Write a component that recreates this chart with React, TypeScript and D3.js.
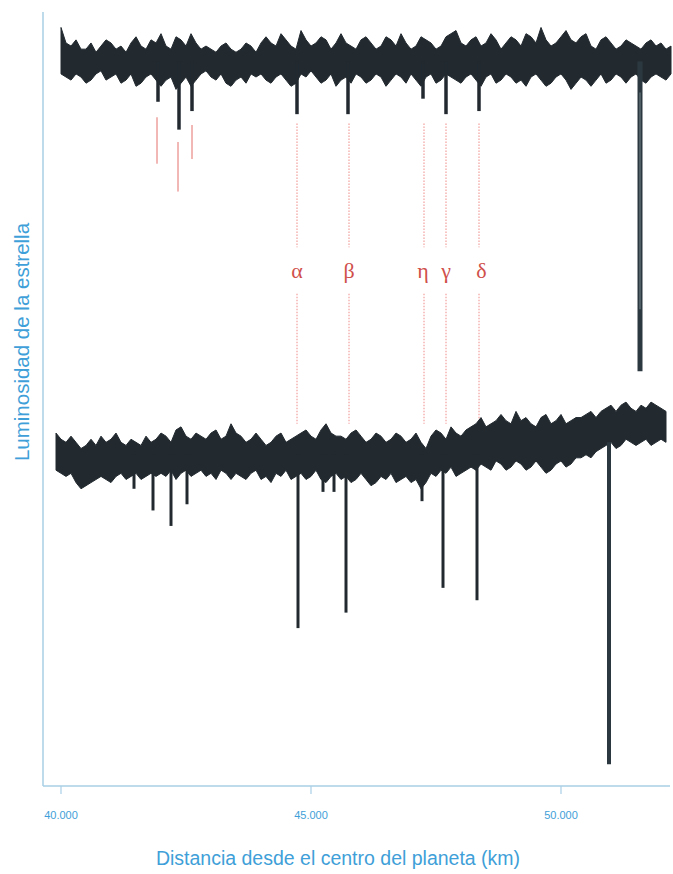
import React from 'react';
import * as d3 from 'd3';

// Light curves of a stellar occultation: upper/lower edge of the noisy band (flux %, 100 = unocculted)
const KM_STEP = 100;
const topStartKm = 40000;
const topUpper = [
  111, 106, 105, 107, 104, 104, 106, 103, 105, 107,
  106, 104, 105, 103, 106, 108, 105, 104, 107, 106,
  109, 105, 104, 108, 107, 105, 109, 106, 104, 105,
  104, 103, 105, 106, 104, 103, 104, 106, 105, 103,
  106, 108, 106, 105, 109, 107, 105, 104, 110, 107,
  105, 106, 108, 107, 104, 106, 109, 106, 105, 104,
  107, 108, 106, 104, 105, 108, 107, 105, 109, 106,
  104, 105, 108, 107, 106, 104, 105, 108, 109, 110,
  106, 105, 107, 108, 105, 106, 109, 107, 104, 106,
  108, 107, 105, 109, 108, 106, 111, 107, 105, 106,
  108, 110, 107, 106, 108, 109, 105, 104, 107, 108,
  106, 104, 105, 107, 106, 105, 104, 106, 107, 105,
  106, 104, 105,
];
const topLower = [
  96, 95, 94, 96, 95, 93, 94, 96, 97, 94,
  95, 96, 93, 94, 96, 92, 93, 95, 96, 94,
  92, 94, 95, 91, 93, 95, 92, 94, 96, 97,
  95, 94, 96, 93, 92, 94, 95, 93, 96, 95,
  96, 94, 93, 95, 96, 94, 92, 93, 96, 95,
  97, 95, 93, 94, 96, 92, 94, 95, 93, 96,
  95, 93, 94, 96, 95, 92, 94, 96, 95, 93,
  96, 94, 92, 95, 96, 93, 94, 96, 95, 94,
  93, 95, 96, 94, 92, 95, 96, 93, 94, 96,
  95, 93, 94, 92, 95, 96, 94, 92, 93, 95,
  96, 94, 91, 93, 95, 94, 92, 94, 96, 93,
  94, 96, 95, 93, 95, 96, 94, 93, 95, 96,
  95, 94, 96,
];

const bottomStartKm = 39900;
const bottomUpper = [
  107, 105, 104, 106,
  104, 102, 103, 105, 103,
  106, 104, 105, 107, 104, 103,
  105, 104, 103, 106, 104, 105,
  107, 106, 104, 108, 109, 106, 105, 107,
  106, 105, 107, 108, 105, 106, 110, 107,
  106, 104, 105, 107, 105, 103, 104, 106, 107, 104, 105, 106,
  107, 108, 106, 105, 108, 110, 107, 106,
  106, 105, 107, 108, 106, 104, 105, 107, 106, 104, 105, 107, 106, 104, 105, 107,
  104, 102,
  106, 108, 107, 105, 109, 107, 106, 108,
  109, 110, 112, 109, 110, 111, 113, 111, 110, 114,
  111, 112, 110, 109, 112, 113, 110, 111, 113, 110, 111, 112,
  112, 113, 114, 112,
  114, 115, 116, 114, 116, 117, 115, 114,
  116, 115, 117, 116, 115, 114,
];
const bottomLower = [
  95, 94, 93, 94,
  91, 89, 90, 91, 92,
  93, 92, 91, 93, 94, 92,
  93, 94, 92, 93, 94, 93,
  94, 93, 95, 92, 94, 95, 93, 94,
  95, 93, 94, 92, 95, 94, 92, 94,
  93, 92, 94, 95, 92, 93, 91, 94, 93, 95, 92, 93,
  94, 92, 93, 95, 92, 91, 93, 94,
  92, 93, 91, 92, 94, 92, 90, 91, 93, 92, 94, 91, 92, 93, 91, 92,
  89, 91,
  94, 93, 95, 94, 96, 93, 94, 95,
  96, 95, 97, 96, 95, 98, 97, 95, 96, 98,
  97, 95, 96, 98, 96, 94, 95, 97, 98, 96, 97, 99,
  99, 100, 99, 101,
  102, 103, 104, 102, 103, 105, 104, 103,
  104, 105, 103, 104, 105, 104,
];

// Ring dips (position in km, minimum flux %)
const topDipKm = [41940, 42360, 42620, 44720, 45740, 47240, 47700, 48360];
const topDipMin = [87, 78, 84, 83, 83, 88, 83, 84];
const topEpsilonKm = 51580;
const topEpsilonMin = 0;

const bottomDipKm = [41460, 41840, 42200, 42520, 44740, 45240, 45460, 45700, 47220, 47640, 48320];
const bottomDipMin = [89, 82, 77, 84, 44, 88, 88, 49, 85, 57, 53];
const bottomEpsilonKm = 50960;
const bottomEpsilonMin = 0;

// Small ring markers under the upper curve (top-curve flux units)
const markKm = [41920, 42340, 42620];
const markFrom = [82, 74, 79.5];
const markTo = [67, 58, 68.5];

// Named rings
const ringNames = ['α', 'β', 'η', 'γ', 'δ'];
const ringKm = [44720, 45760, 47260, 47700, 48360];
const ringLabelKm = [44720, 45760, 47240, 47700, 48410];
const guideUpper = [80, 40];
const guideLower = [25, -17];
const labelFlux = 30;

const xTicks = [40000, 45000, 50000];
const xTickLabels = ['40.000', '45.000', '50.000'];

const TOP_OFFSET = 127;

const W = 673;
const H = 874;
const axisX = 43;
const axisY = 786;

const x = d3.scaleLinear().domain([40000, 50000]).range([61, 561]);
const y = d3.scaleLinear().domain([-7, 243]).range([786, 12]);

const ink = '#222a30';
const axisColor = '#a9cfe6';
const labelBlue = '#3f9fd8';
const red = '#d0504b';

type Pt = { km: number; hi: number; lo: number };

const band = (start: number, hi: number[], lo: number[], off: number): Pt[] =>
  hi.map((h, i) => ({ km: start + i * KM_STEP, hi: h + off, lo: lo[i] + off }));

const area = d3
  .area<Pt>()
  .x((d) => x(d.km))
  .y0((d) => y(d.lo))
  .y1((d) => y(d.hi));

const App = () => {
  const topBand = band(topStartKm, topUpper, topLower, TOP_OFFSET);
  const bottomBand = band(bottomStartKm, bottomUpper, bottomLower, 0);

  return (
    <div style={{ position: 'absolute', left: 0, top: 0 }}>
      <svg width={W} height={H} style={{ display: 'block', background: '#fff' }}>
        {/* axes */}
        <line x1={axisX} x2={axisX} y1={12} y2={axisY} stroke={axisColor} strokeWidth={1.5} />
        <line x1={axisX} x2={W - 3} y1={axisY} y2={axisY} stroke={axisColor} strokeWidth={1.5} />
        {xTicks.map((t, i) => (
          <g key={t} transform={`translate(${x(t)},${axisY})`}>
            <line y1={0} y2={8} stroke={axisColor} strokeWidth={1.2} />
            <text
              y={33}
              textAnchor="middle"
              fill={labelBlue}
              fontFamily="Liberation Sans, Arial, sans-serif"
              fontSize={11}
            >
              {xTickLabels[i]}
            </text>
          </g>
        ))}
        <text
          x={338}
          y={865}
          textAnchor="middle"
          fill={labelBlue}
          fontFamily="Liberation Sans, Arial, sans-serif"
          fontSize={19.5}
        >
          Distancia desde el centro del planeta (km)
        </text>
        <text
          transform={`translate(29,342) rotate(-90)`}
          textAnchor="middle"
          fill={labelBlue}
          fontFamily="Liberation Sans, Arial, sans-serif"
          fontSize={20.5}
        >
          Luminosidad de la estrella
        </text>

        {/* ring guides */}
        {ringKm.map((k, i) => (
          <g key={ringNames[i]}>
            <line
              x1={x(k)}
              x2={x(k)}
              y1={y(guideUpper[0] + TOP_OFFSET)}
              y2={y(guideUpper[1] + TOP_OFFSET)}
              stroke="#ee8a86"
              strokeWidth={1}
              strokeDasharray="1.5 1.5"
            />
            <line
              x1={x(k)}
              x2={x(k)}
              y1={y(guideLower[0] + TOP_OFFSET)}
              y2={y(guideLower[1] + TOP_OFFSET)}
              stroke="#ee8a86"
              strokeWidth={1}
              strokeDasharray="1.5 1.5"
            />
            <text
              x={x(ringLabelKm[i])}
              y={y(labelFlux + TOP_OFFSET)}
              textAnchor="middle"
              fill={red}
              fontFamily="Liberation Serif, Times New Roman, serif"
              fontSize={22}
            >
              {ringNames[i]}
            </text>
          </g>
        ))}
        {markKm.map((k, i) => (
          <line
            key={k}
            x1={x(k)}
            x2={x(k)}
            y1={y(markFrom[i] + TOP_OFFSET)}
            y2={y(markTo[i] + TOP_OFFSET)}
            stroke="#e2706c"
            strokeWidth={1}
          />
        ))}

        {/* upper light curve */}
        <path d={area(topBand) ?? ''} fill={ink} stroke={ink} strokeWidth={1} strokeLinejoin="miter" />
        {topDipKm.map((k, i) => (
          <line
            key={k}
            x1={x(k)}
            x2={x(k)}
            y1={y(100 + TOP_OFFSET)}
            y2={y(topDipMin[i] + TOP_OFFSET)}
            stroke={ink}
            strokeWidth={3.5}
          />
        ))}
        <line
          x1={x(topEpsilonKm)}
          x2={x(topEpsilonKm)}
          y1={y(100 + TOP_OFFSET)}
          y2={y(topEpsilonMin + TOP_OFFSET)}
          stroke="#2c3840"
          strokeWidth={5}
        />
        <line
          x1={x(topEpsilonKm)}
          x2={x(topEpsilonKm)}
          y1={y(90 + TOP_OFFSET)}
          y2={y(20 + TOP_OFFSET)}
          stroke="#5b6a70"
          strokeWidth={1.5}
        />

        {/* lower light curve */}
        <path d={area(bottomBand) ?? ''} fill={ink} stroke={ink} strokeWidth={1} strokeLinejoin="miter" />
        {bottomDipKm.map((k, i) => (
          <line
            key={k}
            x1={x(k)}
            x2={x(k)}
            y1={y(100)}
            y2={y(bottomDipMin[i])}
            stroke={ink}
            strokeWidth={3}
          />
        ))}
        <line
          x1={x(bottomEpsilonKm)}
          x2={x(bottomEpsilonKm)}
          y1={y(104)}
          y2={y(bottomEpsilonMin)}
          stroke="#2c3840"
          strokeWidth={4}
        />
      </svg>
    </div>
  );
};

export default App;
